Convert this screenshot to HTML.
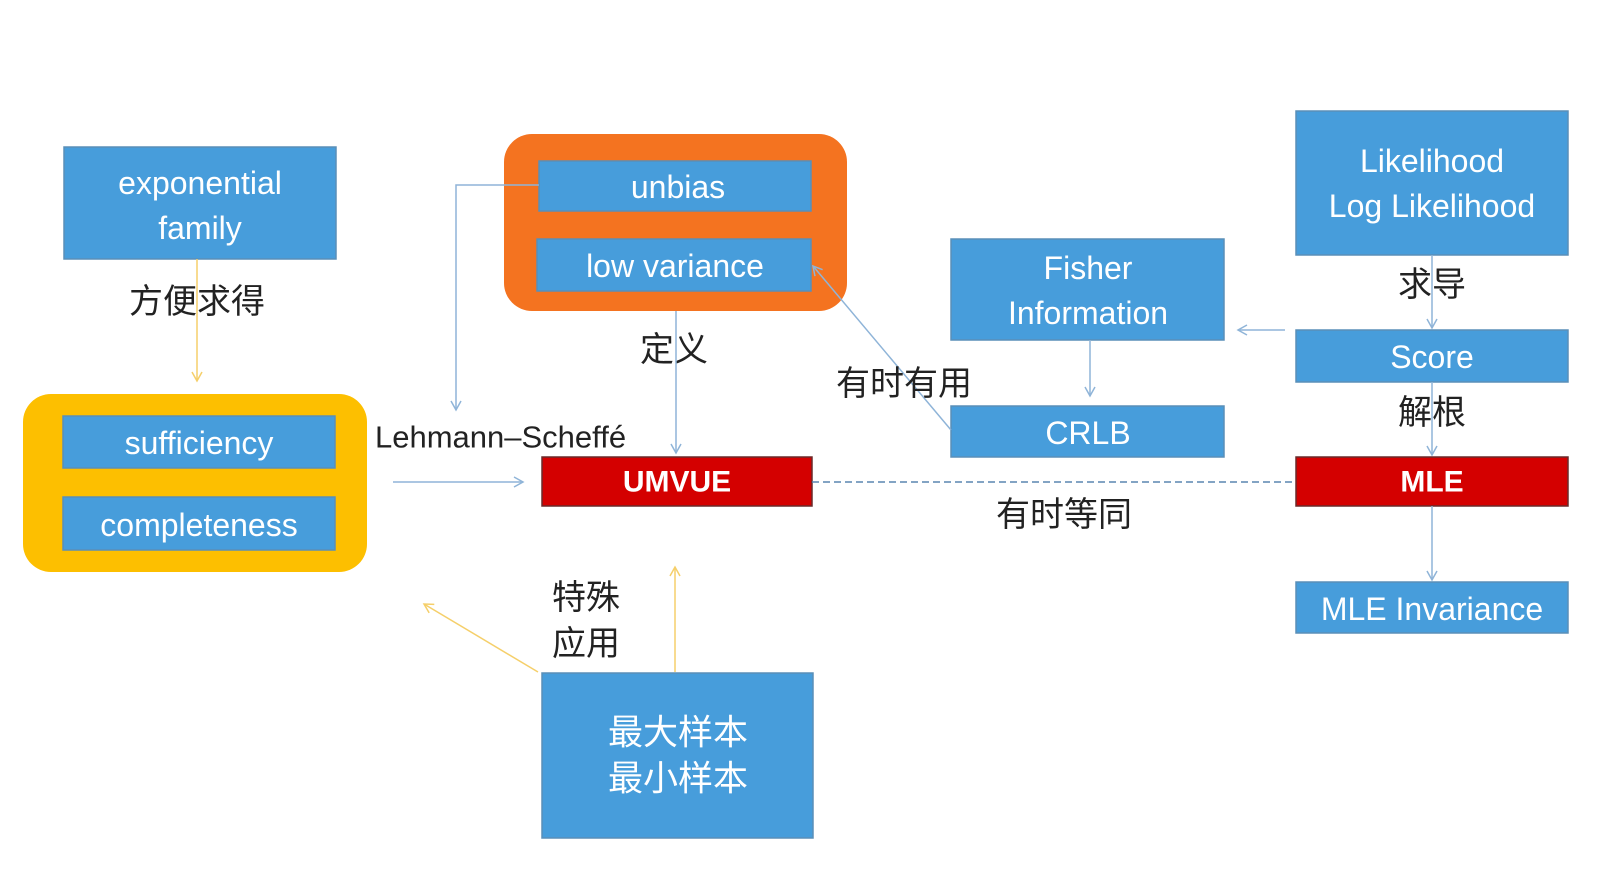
<!DOCTYPE html>
<html><head><meta charset="utf-8"><style>
html,body{margin:0;padding:0;background:#fff;}
svg{display:block;}
text{font-family:"Liberation Sans","Noto Sans CJK SC",sans-serif;}
.w{fill:#fff;font-size:32px;text-anchor:middle;dominant-baseline:central;}
.k{fill:#222;font-size:34px;text-anchor:middle;dominant-baseline:central;}
.b{fill:#479ddb;stroke:#5a8fb8;stroke-width:1.5;}
.r{fill:#d40000;stroke:#6a2a2a;stroke-width:1.5;}
</style></head><body>
<svg width="1614" height="872" viewBox="0 0 1614 872" xmlns="http://www.w3.org/2000/svg">
<defs>
<marker id="ab" markerWidth="14" markerHeight="14" refX="10" refY="6" orient="auto" markerUnits="userSpaceOnUse"><path d="M1,1 L10,6 L1,11" fill="none" stroke="#8fb4d8" stroke-width="1.5"/></marker>
<marker id="ay" markerWidth="14" markerHeight="14" refX="10" refY="6" orient="auto" markerUnits="userSpaceOnUse"><path d="M1,1 L10,6 L1,11" fill="none" stroke="#f5cf6a" stroke-width="1.5"/></marker>
</defs>
<rect class="b" x="64" y="147" width="272" height="112"/>
<text class="w" x="200" y="183">exponential</text>
<text class="w" x="200" y="228">family</text>
<text class="k" x="197" y="302">方便求得</text>
<line x1="197" y1="259" x2="197" y2="381" stroke="#f5cf6a" stroke-width="1.5" marker-end="url(#ay)"/>
<rect x="23" y="394" width="344" height="178" rx="28" fill="#fdbf00"/>
<rect class="b" x="63" y="416" width="272" height="52"/>
<text class="w" x="199" y="443">sufficiency</text>
<rect class="b" x="63" y="497" width="272" height="53"/>
<text class="w" x="199" y="525">completeness</text>
<rect x="504" y="134" width="343" height="177" rx="28" fill="#f47320"/>
<rect class="b" x="539" y="161" width="272" height="50"/>
<text class="w" x="678" y="187">unbias</text>
<rect class="b" x="537" y="239" width="274" height="52"/>
<text class="w" x="675" y="266">low variance</text>
<polyline points="539,185 456,185 456,410" fill="none" stroke="#8fb4d8" stroke-width="1.5" marker-end="url(#ab)"/>
<text class="k" x="674" y="350">定义</text>
<line x1="676" y1="311" x2="676" y2="453" stroke="#8fb4d8" stroke-width="1.5" marker-end="url(#ab)"/>
<text x="375" y="437" style="fill:#222;font-size:31px;dominant-baseline:central;">Lehmann–Scheffé</text>
<line x1="393" y1="482" x2="523" y2="482" stroke="#8fb4d8" stroke-width="1.5" marker-end="url(#ab)"/>
<rect class="r" x="542" y="457" width="270" height="49"/>
<text class="w" x="677" y="482" style="font-weight:bold;font-size:30px;">UMVUE</text>
<line x1="812" y1="482" x2="1296" y2="482" stroke="#5a86b0" stroke-width="1.5" stroke-dasharray="7,4"/>
<text class="k" x="1064" y="515">有时等同</text>
<rect class="b" x="951" y="239" width="273" height="101"/>
<text class="w" x="1088" y="268">Fisher</text>
<text class="w" x="1088" y="313">Information</text>
<rect class="b" x="951" y="406" width="273" height="51"/>
<text class="w" x="1088" y="433">CRLB</text>
<line x1="1090" y1="340" x2="1090" y2="396" stroke="#8fb4d8" stroke-width="1.5" marker-end="url(#ab)"/>
<line x1="951" y1="430" x2="813" y2="266" stroke="#8fb4d8" stroke-width="1.5" marker-end="url(#ab)"/>
<text class="k" x="904" y="384">有时有用</text>
<rect class="b" x="1296" y="111" width="272" height="144"/>
<text class="w" x="1432" y="161">Likelihood</text>
<text class="w" x="1432" y="206">Log Likelihood</text>
<text class="k" x="1432" y="285">求导</text>
<line x1="1432" y1="255" x2="1432" y2="328" stroke="#8fb4d8" stroke-width="1.5" marker-end="url(#ab)"/>
<rect class="b" x="1296" y="330" width="272" height="52"/>
<text class="w" x="1432" y="357">Score</text>
<line x1="1285" y1="330" x2="1238" y2="330" stroke="#8fb4d8" stroke-width="1.5" marker-end="url(#ab)"/>
<text class="k" x="1432" y="413">解根</text>
<line x1="1432" y1="382" x2="1432" y2="455" stroke="#8fb4d8" stroke-width="1.5" marker-end="url(#ab)"/>
<rect class="r" x="1296" y="457" width="272" height="49"/>
<text class="w" x="1432" y="482" style="font-weight:bold;font-size:30px;">MLE</text>
<line x1="1432" y1="506" x2="1432" y2="580" stroke="#8fb4d8" stroke-width="1.5" marker-end="url(#ab)"/>
<rect class="b" x="1296" y="582" width="272" height="51"/>
<text class="w" x="1432" y="609">MLE Invariance</text>
<rect class="b" x="542" y="673" width="271" height="165"/>
<text class="w" x="678" y="733" style="font-size:35px;">最大样本</text>
<text class="w" x="678" y="779" style="font-size:35px;">最小样本</text>
<line x1="675" y1="672" x2="675" y2="567" stroke="#f5cf6a" stroke-width="1.5" marker-end="url(#ay)"/>
<line x1="538" y1="672" x2="424" y2="604" stroke="#f5cf6a" stroke-width="1.5" marker-end="url(#ay)"/>
<text class="k" x="586" y="598">特殊</text>
<text class="k" x="586" y="644">应用</text>
</svg>
</body></html>
